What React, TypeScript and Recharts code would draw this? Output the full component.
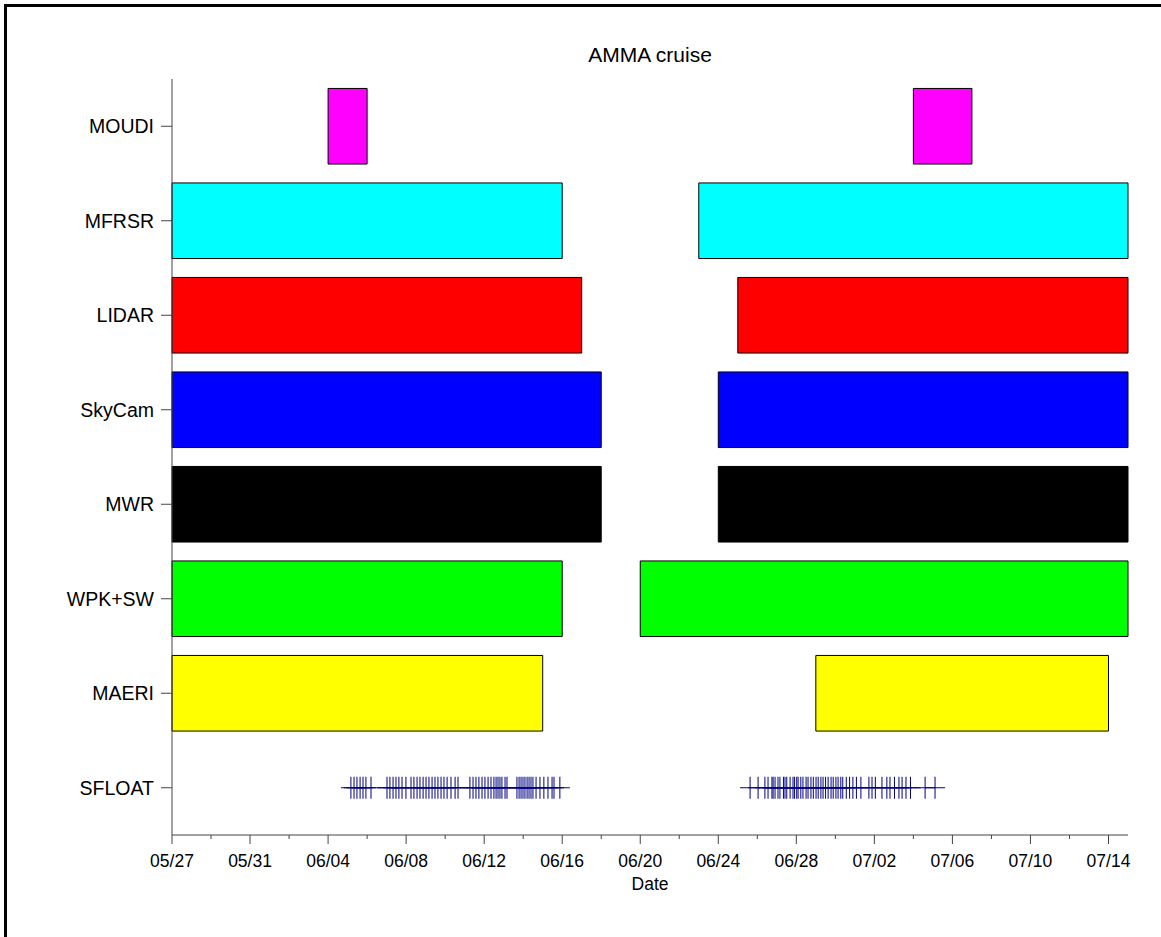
import { ComposedChart, XAxis, YAxis, Scatter, ReferenceArea } from 'recharts';

// rows from bottom (1) to top (8)
const instruments = ['SFLOAT', 'MAERI', 'WPK+SW', 'MWR', 'SkyCam', 'LIDAR', 'MFRSR', 'MOUDI'];
const rowTicks = [1, 2, 3, 4, 5, 6, 7, 8];

// days since 05/27
const dayTicks = [0, 2, 4, 6, 8, 10, 12, 14, 16, 18, 20, 22, 24, 26, 28, 30, 32, 34, 36, 38, 40, 42, 44, 46, 48];
const dateLabels = ['05/27', '05/31', '06/04', '06/08', '06/12', '06/16', '06/20', '06/24', '06/28', '07/02', '07/06', '07/10', '07/14'];

const moudiPeriods = [[8, 10], [38, 41]];
const mfrsrPeriods = [[0, 20], [27, 49]];
const lidarPeriods = [[0, 21], [29, 49]];
const skycamPeriods = [[0, 22], [28, 49]];
const mwrPeriods = [[0, 22], [28, 49]];
const wpkPeriods = [[0, 20], [24, 49]];
const maeriPeriods = [[0, 19], [33, 48]];

const sfloatDays = [
    9.17, 9.33, 9.48, 9.64, 9.79, 9.94, 10.2,
    11.02, 11.17, 11.33, 11.48, 11.63, 11.79, 11.99,
    12.25, 12.4, 12.56, 12.71, 12.87, 13.02, 13.17, 13.33, 13.48, 13.63, 13.79, 13.94, 14.1, 14.3, 14.51, 14.66,
    15.27, 15.43, 15.58, 15.73, 15.89, 16.04, 16.2, 16.35, 16.5, 16.61, 16.71, 16.81, 16.91, 17.07, 17.17,
    17.68, 17.79, 17.89, 17.99, 18.09, 18.2, 18.3, 18.4, 18.5, 18.66, 18.86, 19.06, 19.27, 19.48, 19.58, 19.88,
    29.63, 30.04, 30.39, 30.55, 30.75, 30.81, 30.91, 31.06, 31.16, 31.34, 31.42, 31.51, 31.68, 31.83, 31.91,
    32.02, 32.09, 32.23, 32.34, 32.5, 32.6, 32.75, 32.87, 33.01, 33.12, 33.26, 33.37, 33.5, 33.63, 33.78, 33.89,
    34.03, 34.14, 34.28, 34.38, 34.56, 34.73, 34.9, 35.08, 35.31, 35.72, 35.88, 36.05, 36.39, 36.64, 36.8,
    37.03, 37.26, 37.42, 37.62, 37.85, 38.6, 39.11,
];

const bars = [
    { row: 8, color: '#ff00ff', periods: moudiPeriods },
    { row: 7, color: '#00ffff', periods: mfrsrPeriods },
    { row: 6, color: '#ff0000', periods: lidarPeriods },
    { row: 5, color: '#0000ff', periods: skycamPeriods },
    { row: 4, color: '#000000', periods: mwrPeriods },
    { row: 3, color: '#00ff00', periods: wpkPeriods },
    { row: 2, color: '#ffff00', periods: maeriPeriods },
];

const sfloatData = sfloatDays.map(day => ({ day, row: 1 }));

const FONT = '"Liberation Sans", Arial, sans-serif';
const BAR_HALF = 0.4;

function DateTick({ x, y, payload }: any) {
    const v = payload.value;
    const major = v % 4 === 0;
    return (
        <g>
            <line x1={x} y1={y} x2={x} y2={y + (major ? 9 : 4)} stroke="#444" />
            {major && (
                <text x={x} y={y + 32} textAnchor="middle" fontSize={17.5} fontFamily={FONT} fill="#000">
                    {dateLabels[v / 4]}
                </text>
            )}
        </g>
    );
}

function PlusMark({ cx, cy }: any) {
    return (
        <g stroke="#000080" strokeWidth={1}>
            <line x1={cx - 10} y1={cy} x2={cx + 10} y2={cy} />
            <line x1={cx} y1={cy - 11} x2={cx} y2={cy + 11} />
        </g>
    );
}

export default function App() {
    return (
        <div style={{ position: 'absolute', left: 0, top: 0, width: 1161, height: 937, background: '#fff', fontFamily: FONT }}>
            <div style={{ position: 'absolute', left: 4, top: 4, right: 0, bottom: 0, borderTop: '3px solid #000', borderLeft: '3px solid #000' }} />
            <div style={{ position: 'absolute', left: 450, top: 43, width: 400, textAlign: 'center', fontSize: 21, lineHeight: '24px', color: '#000' }}>
                AMMA cruise
            </div>
            <div style={{ position: 'absolute', left: 0, top: 0 }}>
                <ComposedChart width={1161} height={937} margin={{ top: 79, right: 33, left: 0, bottom: 42 }}>
                    <XAxis
                        type="number"
                        dataKey="day"
                        domain={[0, 49]}
                        ticks={dayTicks}
                        interval={0}
                        tickSize={0}
                        tickMargin={0}
                        tickLine={false}
                        tick={<DateTick />}
                        stroke="#444"
                        height={60}
                        label={{ value: 'Date', position: 'insideBottom', offset: 5, fontSize: 17.5, fill: '#000', fontFamily: FONT }}
                    />
                    <YAxis
                        type="number"
                        dataKey="row"
                        domain={[0.5, 8.5]}
                        ticks={rowTicks}
                        interval={0}
                        width={172}
                        tickSize={11}
                        tickMargin={7}
                        stroke="#444"
                        tick={{ fill: '#000', fontSize: 19.5, fontFamily: FONT }}
                        tickFormatter={(v: number) => instruments[v - 1]}
                    />
                    {bars.flatMap(b =>
                        b.periods.map(([s, e], i) => (
                            <ReferenceArea
                                key={`${b.row}-${i}`}
                                x1={s}
                                x2={e}
                                y1={b.row - BAR_HALF}
                                y2={b.row + BAR_HALF}
                                fill={b.color}
                                fillOpacity={1}
                                stroke="#000"
                                strokeWidth={1}
                                ifOverflow="visible"
                            />
                        ))
                    )}
                    <Scatter data={sfloatData} dataKey="row" shape={<PlusMark />} isAnimationActive={false} />
                </ComposedChart>
            </div>
        </div>
    );
}
